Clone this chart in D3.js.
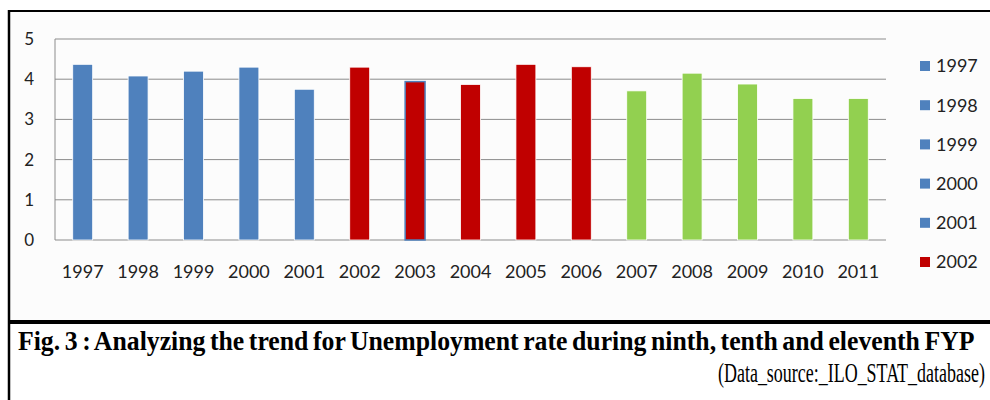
<!DOCTYPE html>
<html>
<head>
<meta charset="utf-8">
<script src="https://cdn.jsdelivr.net/npm/d3@7"></script>
<style>
  body { margin: 0; background: #fff; }
  svg { display: block; }
</style>
</head>
<body>
<div id="vis"></div>
<script>
// Data
const YEARS = ["1997", "1998", "1999", "2000", "2001", "2002", "2003", "2004",
               "2005", "2006", "2007", "2008", "2009", "2010", "2011"];
const RATES = [4.37, 4.08, 4.2, 4.3, 3.75, 4.3, 3.94, 3.87, 4.37, 4.31, 3.71, 4.15, 3.88, 3.52, 3.52];
const PLAN = ["ninth", "ninth", "ninth", "ninth", "ninth", "tenth", "tenth", "tenth",
              "tenth", "tenth", "eleventh", "eleventh", "eleventh", "eleventh", "eleventh"];
const Y_TICKS = [0, 1, 2, 3, 4, 5];
const LEGEND_YEARS = ["1997", "1998", "1999", "2000", "2001", "2002"];
const LEGEND_PLAN = ["ninth", "ninth", "ninth", "ninth", "ninth", "tenth"];
const CAPTION = "Fig. 3 : Analyzing the trend for Unemployment rate during ninth, tenth and eleventh FYP";
const SOURCE = "(Data_source:_ILO_STAT_database)";

// Frame
const FRAME_WIDTH = 990;
const FRAME_HEIGHT = 400;
const PLOT = { left: 55, right: 886, top: 39, bottom: 240 };

const FRAME = d3.select("#vis")
    .append("svg")
    .attr("width", FRAME_WIDTH)
    .attr("height", FRAME_HEIGHT);

// scales
const X_SCALE = d3.scaleBand()
    .domain(YEARS)
    .range([PLOT.left, PLOT.right])
    .paddingInner(0.64)
    .paddingOuter(0.32);

const Y_SCALE = d3.scaleLinear()
    .domain([0, 5])
    .range([PLOT.bottom, PLOT.top]);

const COLOR = d3.scaleOrdinal()
    .domain(["ninth", "tenth", "eleventh"])
    .range(["#4F81BD", "#C00000", "#92D050"]);

// chart area background
FRAME.append("rect")
    .attr("x", 9).attr("y", 11)
    .attr("width", FRAME_WIDTH - 9).attr("height", 311)
    .attr("fill", "#fcfcfc");

// gridlines
FRAME.append("g")
    .selectAll("line")
    .data(Y_TICKS)
    .enter()
    .append("line")
    .attr("x1", PLOT.left)
    .attr("x2", PLOT.right)
    .attr("y1", d => Y_SCALE(d))
    .attr("y2", d => Y_SCALE(d))
    .attr("stroke", "#8c8c8c")
    .attr("stroke-width", 1);

// left axis line
FRAME.append("line")
    .attr("x1", PLOT.left).attr("x2", PLOT.left)
    .attr("y1", Y_SCALE(5)).attr("y2", Y_SCALE(0))
    .attr("stroke", "#8c8c8c");

// Y axis labels
const Y_AXIS = FRAME.append("g")
    .attr("transform", "translate(" + 34 + ",0)")
    .call(d3.axisLeft(Y_SCALE).tickValues(Y_TICKS).tickFormat(d3.format("d")).tickSize(0).tickPadding(0));
Y_AXIS.select(".domain").remove();
Y_AXIS.selectAll("text")
    .attr("font-family", "Lato, 'Open Sans', sans-serif")
    .attr("font-size", "17px")
    .attr("fill", "#222");

// X axis labels
const X_AXIS = FRAME.append("g")
    .attr("transform", "translate(0," + 265 + ")")
    .call(d3.axisBottom(X_SCALE).tickSize(0).tickPadding(0));
X_AXIS.select(".domain").remove();
X_AXIS.selectAll("text")
    .attr("font-family", "Lato, 'Open Sans', sans-serif")
    .attr("font-size", "18px")
    .attr("fill", "#222");

// bars
FRAME.append("g")
    .selectAll("rect")
    .data(YEARS)
    .enter()
    .append("rect")
    .attr("x", d => X_SCALE(d))
    .attr("y", (d, i) => Y_SCALE(RATES[i]))
    .attr("width", X_SCALE.bandwidth())
    .attr("height", (d, i) => Y_SCALE(0) - Y_SCALE(RATES[i]))
    .attr("fill", (d, i) => COLOR(PLAN[i]))
    .attr("stroke", d => d === "2003" ? "#4F81BD" : "#ffffff")
    .attr("stroke-width", d => d === "2003" ? 1.5 : 0.8);

// legend
const LEGEND = FRAME.append("g")
    .selectAll("g")
    .data(LEGEND_YEARS)
    .enter()
    .append("g")
    .attr("transform", (d, i) => "translate(920," + (66 + i * 39.2) + ")");

LEGEND.append("rect")
    .attr("x", 0).attr("y", -5)
    .attr("width", 10).attr("height", 10)
    .attr("fill", (d, i) => COLOR(LEGEND_PLAN[i]));

LEGEND.append("text")
    .attr("x", 16).attr("y", 0)
    .attr("dy", "0.36em")
    .attr("font-family", "Lato, 'Open Sans', sans-serif")
    .attr("font-size", "18px")
    .attr("fill", "#222")
    .text(d => d);

// frame lines
FRAME.append("line")
    .attr("x1", 8).attr("x2", FRAME_WIDTH)
    .attr("y1", 11).attr("y2", 11)
    .attr("stroke", "#000").attr("stroke-width", 2);
FRAME.append("line")
    .attr("x1", 9).attr("x2", 9)
    .attr("y1", 10).attr("y2", FRAME_HEIGHT)
    .attr("stroke", "#000").attr("stroke-width", 2.5);
FRAME.append("line")
    .attr("x1", 8).attr("x2", FRAME_WIDTH)
    .attr("y1", 322).attr("y2", 322)
    .attr("stroke", "#000").attr("stroke-width", 4);

// caption: condensed serif, squeezed horizontally to fit the span
function condensedText(str, x, y, width, size, weight) {
    const g = FRAME.append("g");
    const t = g.append("text")
        .attr("x", 0).attr("y", 0)
        .attr("font-family", "'Liberation Serif', 'Times New Roman', serif")
        .attr("font-weight", weight)
        .attr("font-size", size + "px")
        .attr("word-spacing", "-2px")
        .text(str);
    const natural = t.node().getComputedTextLength();
    g.attr("transform", "translate(" + x + "," + y + ") scale(" + (width / natural) + ",1)");
}

condensedText(CAPTION, 18, 350, 957, 27.5, "bold");
condensedText(SOURCE, 718, 382, 267, 27.5, "normal");
</script>
</body>
</html>
